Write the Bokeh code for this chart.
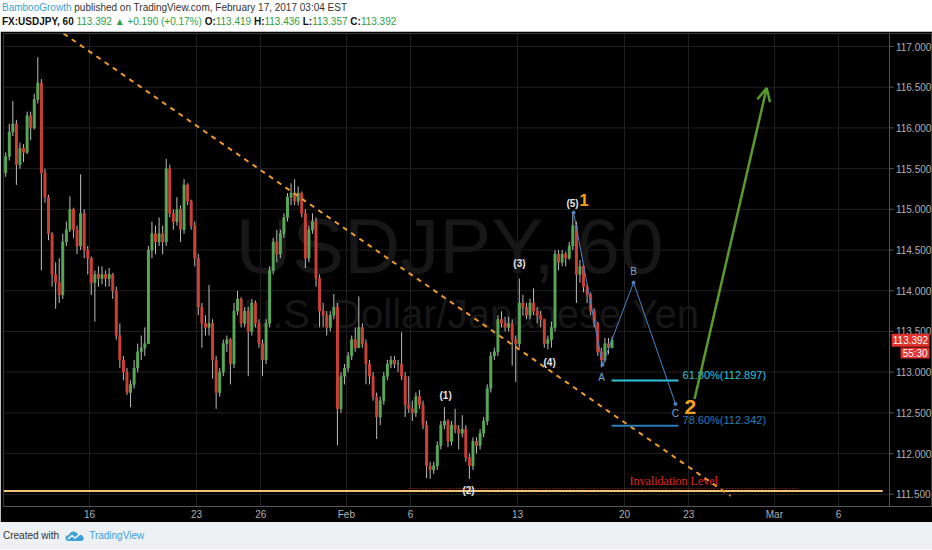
import numpy as np
from bokeh.plotting import figure
from bokeh.models import (ColumnDataSource, FixedTicker, Range1d, Arrow, OpenHead, Div)
from bokeh.layouts import column
from bokeh.core.properties import value
from bokeh.embed import file_html
from bokeh.resources import INLINE

# ---------------- data (USDJPY, 4-hour bars) ----------------
# x axis = trading-day index, 0 = Mon Jan 16 2017 (weekends skipped)
first_bar_day = -4.0          # Jan 10 00:00
bars_per_day = 6
first_open = 115.45
bar_high = [115.70, 116.05, 116.33, 116.10, 115.82, 115.80, 116.20, 116.20, 116.42, 116.87,
            116.60, 115.50, 115.18, 114.72, 114.35, 114.40, 114.70, 114.85, 115.16, 115.02,
            114.80, 115.43, 115.00, 114.55, 114.42, 114.25, 114.30, 114.30, 114.25, 114.28,
            114.22, 114.05, 113.60, 113.20, 113.05, 112.90, 113.15, 113.35, 113.45, 113.55,
            114.55, 114.85, 114.80, 114.90, 114.80, 115.62, 115.55, 115.00, 115.15, 115.05,
            115.37, 115.32, 115.12, 114.85, 114.45, 113.85, 113.70, 114.07, 113.65, 113.20,
            113.05, 113.40, 113.45, 113.42, 113.85, 114.00, 113.92, 113.80, 113.80, 113.90,
            113.88, 113.65, 113.40, 113.65, 114.30, 114.65, 114.75, 114.75, 114.95, 115.20,
            115.32, 115.37, 115.28, 115.22, 115.00, 114.80, 114.95, 114.90, 114.20, 113.85,
            113.75, 113.75, 113.96, 113.85, 113.00, 113.10, 113.25, 113.45, 113.55, 113.93,
            113.60, 113.40, 113.15, 113.00, 112.75, 112.70, 113.00, 113.15, 113.20, 113.20,
            113.15, 113.49, 113.00, 112.95, 112.65, 112.75, 112.78, 112.65, 112.40, 111.90,
            111.90, 112.15, 112.40, 112.57, 112.42, 112.40, 112.55, 112.35, 112.47, 112.35,
            112.00, 112.20, 112.20, 112.30, 112.45, 112.85, 113.25, 113.30, 113.70, 113.75,
            113.68, 113.68, 113.65, 113.45, 114.15, 113.95, 113.85, 113.90, 114.03, 113.80,
            113.75, 113.65, 113.45, 113.62, 114.50, 114.50, 114.50, 114.48, 114.60, 114.96,
            114.85, 114.38, 114.32, 114.08, 113.98, 113.78, 113.62, 113.30, 113.42, 113.42,
            113.436]
bar_low = [115.40, 115.60, 115.90, 115.30, 115.50, 115.58, 115.68, 115.85, 115.98, 116.30,
           114.25, 115.08, 114.62, 114.05, 113.78, 113.85, 113.90, 114.55, 114.72, 114.65,
           114.45, 114.50, 114.40, 114.20, 113.95, 113.62, 114.05, 114.08, 114.05, 114.05,
           113.90, 113.40, 113.05, 112.90, 112.72, 112.57, 112.80, 113.00, 113.15, 113.20,
           113.35, 114.40, 114.45, 114.55, 114.45, 114.55, 114.90, 114.75, 114.80, 114.60,
           114.70, 115.05, 114.75, 114.30, 113.70, 113.30, 113.45, 113.45, 112.92, 112.55,
           112.70, 112.95, 113.25, 112.85, 113.05, 113.70, 113.55, 113.55, 112.95, 113.45,
           113.55, 113.30, 112.95, 113.10, 113.55, 114.20, 114.35, 114.40, 114.65, 114.85,
           115.05, 115.05, 115.05, 114.90, 114.28, 114.35, 114.70, 114.05, 113.55, 113.55,
           113.45, 113.50, 113.65, 112.10, 112.50, 112.85, 113.00, 113.15, 113.25, 113.30,
           113.30, 112.85, 112.85, 112.65, 112.18, 112.35, 112.60, 112.90, 113.05, 113.05,
           113.00, 112.90, 112.45, 112.50, 112.40, 112.45, 112.55, 112.30, 111.70, 111.69,
           111.75, 111.80, 112.05, 112.30, 112.08, 112.10, 112.25, 112.05, 112.20, 111.90,
           111.69, 111.80, 112.00, 112.05, 112.20, 112.35, 112.75, 113.15, 113.20, 113.55,
           113.50, 113.50, 113.08, 112.88, 113.30, 113.70, 113.65, 113.65, 113.70, 113.60,
           113.55, 113.30, 113.28, 113.30, 113.50, 114.25, 114.30, 114.30, 114.38, 114.50,
           113.85, 114.10, 113.98, 113.85, 113.70, 113.55, 113.20, 113.06, 113.12, 113.22,
           113.357]
bar_close = [115.65, 115.95, 116.05, 115.55, 115.75, 115.70, 116.15, 116.00, 116.35, 116.55,
             115.45, 115.15, 114.70, 114.20, 114.10, 113.95, 114.60, 114.75, 115.00, 114.75,
             114.55, 114.95, 114.50, 114.40, 114.10, 114.20, 114.15, 114.20, 114.15, 114.20,
             114.00, 113.45, 113.15, 113.00, 112.75, 112.85, 113.05, 113.25, 113.30, 113.35,
             114.50, 114.70, 114.60, 114.70, 114.60, 115.50, 114.95, 114.85, 115.00, 114.75,
             115.30, 115.10, 114.80, 114.40, 113.80, 113.60, 113.55, 113.60, 113.15, 112.75,
             113.00, 113.35, 113.40, 113.10, 113.75, 113.90, 113.60, 113.75, 113.50, 113.85,
             113.60, 113.35, 113.15, 113.60, 114.25, 114.60, 114.45, 114.70, 114.90, 115.15,
             115.20, 115.10, 115.20, 114.95, 114.40, 114.75, 114.85, 114.15, 113.75, 113.70,
             113.55, 113.70, 113.80, 112.55, 112.95, 113.05, 113.20, 113.40, 113.30, 113.55,
             113.35, 113.10, 112.95, 112.70, 112.45, 112.65, 112.95, 113.10, 113.15, 113.10,
             113.10, 112.95, 112.60, 112.55, 112.50, 112.70, 112.60, 112.35, 111.85, 111.80,
             111.85, 112.10, 112.35, 112.40, 112.15, 112.35, 112.30, 112.25, 112.30, 111.95,
             111.85, 112.15, 112.10, 112.25, 112.40, 112.80, 113.20, 113.25, 113.65, 113.60,
             113.55, 113.60, 113.40, 113.35, 113.85, 113.80, 113.70, 113.85, 113.75, 113.70,
             113.65, 113.35, 113.40, 113.55, 114.45, 114.35, 114.45, 114.40, 114.55, 114.80,
             114.20, 114.30, 114.05, 113.95, 113.75, 113.60, 113.25, 113.15, 113.35, 113.30,
             113.392]

# axis ticks
date_ticks = [0, 5, 8, 12, 15, 20, 25, 28, 32, 35]
date_labels = ["16", "23", "26", "Feb", "6", "13", "20", "23", "Mar", "6"]
price_ticks = [111.5, 112.0, 112.5, 113.0, 113.5, 114.0, 114.5, 115.0, 115.5, 116.0, 116.5, 117.0]
price_labels = ["%.3f" % v for v in price_ticks]

# drawings (day index, price)
trend_day = [-1.215, 29.95]
trend_price = [117.16, 111.48]
support_day = [-4.02, 37.06]
support_price = 111.54
invalid_day = [14.9, 33.08]
invalid_price = 111.57
invalid_text_day = 27.3
fib_day = [24.39, 27.52]
fib_levels = [112.897, 112.342]
fib_texts = ["61.80%(112.897)", "78.60%(112.342)"]
abc_day = [22.62, 23.97, 25.42, 27.38]
abc_price = [114.96, 113.09, 114.10, 112.61]
proj_day = [28.27, 31.64]
proj_price = [112.67, 116.49]
wave_text = ["(1)", "(2)", "(3)", "(4)", "(5)"]
wave_day = [16.64, 17.71, 20.09, 21.50, 22.57]
wave_price = [112.71, 111.55, 114.34, 113.12, 115.07]
abc_text = ["A", "B", "C"]
abc_lbl_day = [23.93, 25.42, 27.38]
abc_lbl_price = [112.94, 114.24, 112.49]
big_text = ["1", "2"]
big_day = [23.10, 28.08]
big_price = [115.11, 112.57]
big_size = ["17px", "21px"]
last_price = 113.392
countdown = "55:30"

# ---------------- build ----------------
n = len(bar_close)
opens = np.array([first_open] + bar_close[:-1])
closes = np.array(bar_close)
highs = np.maximum.reduce([np.array(bar_high), opens, closes])
lows = np.minimum.reduce([np.array(bar_low), opens, closes])
days = first_bar_day + (np.arange(n) + 0.5) / bars_per_day
is_up = closes >= opens
body_col = np.where(is_up, "#58a858", "#cc4038")
src = ColumnDataSource(dict(t=days, o=opens, h=highs, l=lows, c=closes,
                            top=np.maximum(opens, closes), bot=np.minimum(opens, closes),
                            col=body_col))

W = 932
FONT = "Liberation Sans"
X0, X_SCALE, X1 = -4.02, 37.38, 39.39      # chart start, price-scale line, canvas edge (days)
Y0, Y1 = 111.35, 117.16
p = figure(width=W, height=491, x_range=Range1d(X0, X1), y_range=Range1d(Y0, Y1),
           output_backend="svg", toolbar_location=None, y_axis_location=None,
           background_fill_color="#000000", border_fill_color="#000000",
           min_border_left=3, min_border_top=2, min_border_bottom=0, min_border_right=0)
p.outline_line_color = "#3a3a3a"

p.xaxis.ticker = FixedTicker(ticks=date_ticks)
p.xaxis.major_label_overrides = {t: s for t, s in zip(date_ticks, date_labels)}
p.xgrid.ticker = FixedTicker(ticks=date_ticks)
p.xaxis.major_label_text_color = "#b0b0b0"
p.xaxis.major_label_text_font = FONT
p.xaxis.major_label_text_font_size = "10px"
p.xaxis.axis_line_color = "#555555"
p.xaxis.major_tick_line_color = None
p.xaxis.minor_tick_line_color = None
p.xaxis.major_tick_out = 0
p.xaxis.major_tick_in = 0
p.xaxis.minor_tick_out = 0
p.xaxis.minor_tick_in = 0
p.xaxis.major_label_standoff = 2
p.xgrid.grid_line_color = "#202020"
p.ygrid.visible = False

# horizontal grid (chart area only) + price scale
p.segment(x0=[X0] * len(price_ticks), y0=price_ticks, x1=[X_SCALE] * len(price_ticks), y1=price_ticks,
          line_color="#202020", line_width=1)
p.line(x=[X_SCALE, X_SCALE], y=[Y0, Y1], line_color="#555555", line_width=1)
p.segment(x0=[X_SCALE] * len(price_ticks), y0=price_ticks, x1=[X_SCALE + 0.19] * len(price_ticks),
          y1=price_ticks, line_color="#555555", line_width=1)
p.text(x=[X_SCALE + 0.3] * len(price_ticks), y=price_ticks, text=price_labels, text_font=value(FONT),
       text_font_size="10px", text_color="#b0b0b0", text_align="left", text_baseline="middle")

# watermark
p.text(x=[16.82], y=[114.55], text=["USDJPY, 60"], text_font=value(FONT), text_font_size="78px",
       text_color="#171717", text_align="center", text_baseline="middle")
p.text(x=[17.85], y=[113.72], text=["U.S. Dollar/Japanese Yen"], text_font=value(FONT),
       text_font_size="40px", text_color="#171717", text_align="center", text_baseline="middle")

# support + invalidation
p.line(x=support_day, y=[support_price] * 2, line_color="#f0c27a", line_width=2)
p.line(x=invalid_day, y=[invalid_price] * 2, line_color="#d0302a", line_width=1, line_dash="1 2")
p.text(x=[invalid_text_day], y=[invalid_price + 0.005], text=["Invalidation Level"],
       text_font=value("Liberation Serif"), text_font_size="12px", text_color="#e02a20",
       text_align="center", text_baseline="bottom")

# candles
p.segment(x0="t", y0="h", x1="t", y1="l", source=src, line_color="#bdbdbd", line_width=1)
p.vbar(x="t", width=0.09, top="top", bottom="bot", source=src, fill_color="col", line_color="col")

# trend line
p.line(x=trend_day, y=trend_price, line_color="#ee9a2e", line_width=2, line_dash="5 5")

# fib levels
fib_cols = ["#2ec4d6", "#2a7db8"]
for lvl, txt, col in zip(fib_levels, fib_texts, fib_cols):
    p.line(x=fib_day, y=[lvl, lvl], line_color=col, line_width=2)
    p.text(x=[fib_day[1] + 0.19], y=[lvl], text=[txt], text_font=value(FONT), text_font_size="11px",
           text_color=col, text_align="left", text_baseline="bottom")

# ABC path
p.line(x=abc_day, y=abc_price, line_color="#4a86c8", line_width=1)
p.scatter(x=abc_day, y=abc_price, size=3, color="#4a86c8")
p.text(x=abc_lbl_day, y=abc_lbl_price, text=abc_text, text_font=value(FONT), text_font_size="10px",
       text_color="#7aa6d6", text_align="center", text_baseline="middle")

# wave labels
p.text(x=wave_day, y=wave_price, text=wave_text, text_font=value(FONT), text_font_size="10px",
       text_font_style="bold", text_color="#e6e6e6", text_align="center", text_baseline="middle")
for txt, d, pr, sz in zip(big_text, big_day, big_price, big_size):
    p.text(x=[d], y=[pr], text=[txt], text_font=value(FONT), text_font_size=sz, text_font_style="bold",
           text_color="#f7a21b", text_align="center", text_baseline="middle")

# projection arrow
p.add_layout(Arrow(end=OpenHead(size=13, line_color="#5b9b2b", line_width=2.5),
                   x_start=proj_day[0], y_start=proj_price[0], x_end=proj_day[1], y_end=proj_price[1],
                   line_color="#5b9b2b", line_width=2.5))

# last price tag + countdown on the scale
p.quad(left=[X_SCALE + 0.1, X_SCALE + 0.52], right=[X_SCALE + 1.87, X_SCALE + 1.87],
       top=[last_price + 0.08, last_price - 0.09], bottom=[last_price - 0.08, last_price - 0.225],
       fill_color="#e0312c", line_color=None)
p.text(x=[X_SCALE + 0.98, X_SCALE + 1.2], y=[last_price, last_price - 0.157],
       text=["%.3f" % last_price, countdown], text_font=value(FONT), text_font_size="10px",
       text_color="#ffffff", text_align="center", text_baseline="middle")

# ---------------- header / footer ----------------
green = "#2e9e3e"
header_html = (
    '<div style="font-family:\'Liberation Sans\';font-size:10px;line-height:14px;color:#333;padding:1px 0 0 2px;white-space:nowrap">'
    '<span style="color:#3d9fd6">BambooGrowth</span> published on TradingView.com, February 17, 2017 03:04 EST<br>'
    '<b style="color:#111">FX:USDJPY, 60</b> '
    f'<span style="color:{green}">113.392 &#9650; +0.190 (+0.17%)</span> '
    f'<b style="color:#111">O:</b><span style="color:{green}">113.419</span> '
    f'<b style="color:#111">H:</b><span style="color:{green}">113.436</span> '
    f'<b style="color:#111">L:</b><span style="color:{green}">113.357</span> '
    f'<b style="color:#111">C:</b><span style="color:{green}">113.392</span>'
    '</div>')
header = Div(text=header_html, width=W, height=31, margin=0,
             styles={"background-color": "#ffffff"})

logo = ('<svg width="20" height="12" viewBox="0 0 20 12" style="vertical-align:middle;margin:0 4px 0 6px">'
        '<path d="M4 11 Q0 11 0.5 7.5 Q1 5 4 5 Q5 1 9 1.5 Q12 2 13 4.5 Q17 4 18.5 7 Q19.5 11 15.5 11 Z" fill="#3ea0d8"/>'
        '<path d="M3 9 L7 5.5 L10 8 L15 4" stroke="#ffffff" stroke-width="1.4" fill="none"/></svg>')
footer_html = ('<div style="font-family:\'Liberation Sans\';font-size:10px;line-height:27px;color:#333;padding-left:3px;white-space:nowrap">'
               f'Created with{logo}<span style="color:#3ea0d8">TradingView</span></div>')
footer = Div(text=footer_html, width=W, height=27, margin=0,
             styles={"background-color": "#eef1f4"})

layout = column(header, p, footer, spacing=0)
open("out.html", "w").write(file_html(layout, INLINE))
